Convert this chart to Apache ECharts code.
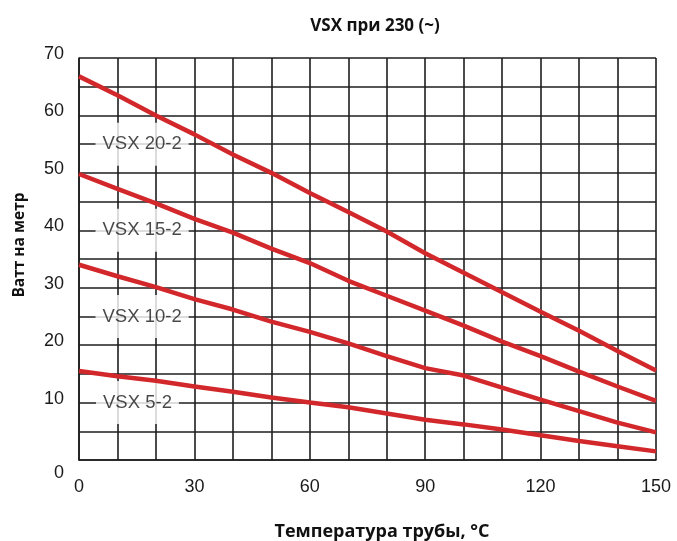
<!DOCTYPE html>
<html>
<head>
<meta charset="utf-8">
<script src="https://cdn.jsdelivr.net/npm/echarts@6/dist/echarts.min.js"></script>
<style>html,body{margin:0;padding:0;background:#fff;}#c{width:677px;height:541px;}</style>
</head>
<body>
<div id="c"></div>
<script>
var temps = [0,10,20,30,40,50,60,70,80,90,100,110,120,130,140,150];
var vsx20 = [66.8,63.5,60.0,56.7,53.2,50.0,46.5,43.2,39.8,36.0,32.6,29.2,25.8,22.5,19.0,15.6];
var vsx15 = [49.8,47.2,44.7,42.0,39.6,36.8,34.3,31.2,28.6,26.0,23.4,20.6,18.1,15.4,12.8,10.3];
var vsx10 = [34.0,32.0,30.1,28.0,26.2,24.1,22.3,20.3,18.1,16.0,14.7,12.6,10.5,8.5,6.5,4.8];
var vsx5  = [15.5,14.6,13.8,12.8,11.9,10.9,10.0,9.2,8.1,7.0,6.2,5.3,4.3,3.3,2.4,1.5];
var seriesNames = ['VSX 20-2','VSX 15-2','VSX 10-2','VSX 5-2'];
var labelX = [16.4,16.4,16.4,15.2];
var labelY = [55,40,25,10];
var titleText = 'VSX при 230 (~)';
var xName = 'Температура трубы, °C';
var yName = 'Ватт на метр';

function pairs(arr){ return temps.map(function(t,i){ return [t, arr[i]]; }); }
var lineStyle = {color:'#d3282b', width:4.5};
var gridLine = {color:'#1e1e1e', width:1.6};

var chart = echarts.init(document.getElementById('c'));
chart.setOption({
  backgroundColor:'#fff',
  animation:false,
  title:{text:titleText, left:370, top:13, textAlign:'center',
    textStyle:{fontFamily:'Open Sans', fontWeight:'bold', fontSize:17, color:'#111'}},
  graphic:[
    {type:'text', x:382, y:532,
      style:{text:xName, font:'bold 18px "Open Sans"', fill:'#111', align:'center', verticalAlign:'middle'}},
    {type:'text', x:19.5, y:245, rotation:Math.PI/2,
      style:{text:yName, font:'bold 15.5px "Open Sans"', fill:'#111', align:'center', verticalAlign:'middle'}}
  ],
  grid:{left:79, right:21, top:58, bottom:81, outerBoundsMode:'none', containLabel:false},
  xAxis:{type:'value', min:0, max:150, interval:10,
    axisLine:{show:true, lineStyle:gridLine}, axisTick:{show:false},
    splitLine:{show:true, lineStyle:gridLine},
    axisLabel:{margin:18, fontFamily:'Liberation Sans', fontSize:18, color:'#1a1a1a',
      formatter:function(v){ return v%30===0 ? String(v) : ''; }}},
  yAxis:{type:'value', min:0, max:70, interval:5,
    axisLine:{show:true, lineStyle:gridLine}, axisTick:{show:false},
    splitLine:{show:true, lineStyle:gridLine},
    axisLabel:{margin:15, fontFamily:'Liberation Sans', fontSize:18, color:'#1a1a1a', padding:[0,0,8,0],
      formatter:function(v){ if(v===0) return '{low|0}'; return v%10===0 ? String(v) : ''; },
      rich:{low:{fontFamily:'Liberation Sans', fontSize:18, color:'#1a1a1a', padding:[34,0,0,0]}}}},
  series:[
    {type:'line', name:seriesNames[0], data:pairs(vsx20), symbol:'none', lineStyle:lineStyle, z:5},
    {type:'line', name:seriesNames[1], data:pairs(vsx15), symbol:'none', lineStyle:lineStyle, z:5},
    {type:'line', name:seriesNames[2], data:pairs(vsx10), symbol:'none', lineStyle:lineStyle, z:5},
    {type:'line', name:seriesNames[3], data:pairs(vsx5), symbol:'none', lineStyle:lineStyle, z:5},
    {type:'scatter', symbolSize:0, z:4, silent:true,
      data:seriesNames.map(function(n,i){ return {value:[labelX[i], labelY[i]], name:n}; }),
      label:{show:true, position:'inside', formatter:'{b}', fontFamily:'Liberation Sans', fontSize:18.5,
        color:'#1a1a1a', backgroundColor:'#fff', padding:[12,7]}}
  ]
});
</script>
</body>
</html>
